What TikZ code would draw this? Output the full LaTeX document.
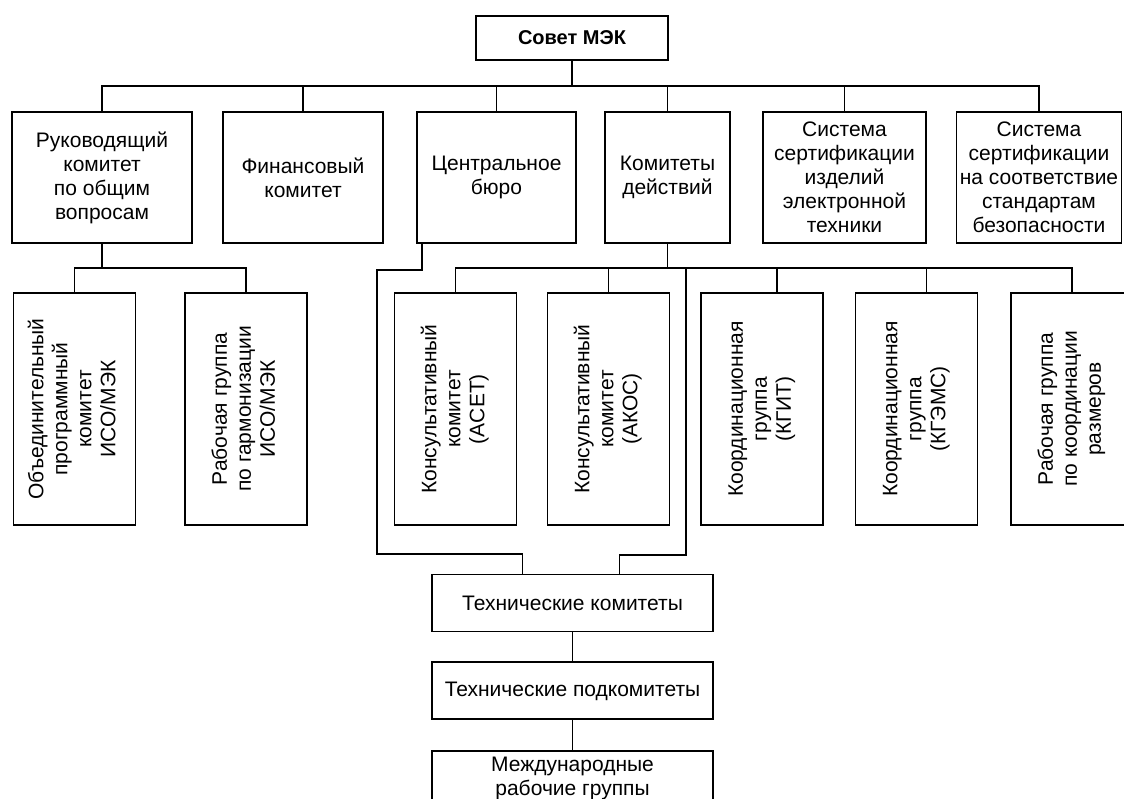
\documentclass[tikz,border=0pt]{standalone}
\usepackage{fontspec}
\setmainfont{Liberation Sans}
\usepackage{graphicx}
\usetikzlibrary{positioning}
\newcommand{\vtext}[1]{\rotatebox{90}{\begin{tabular}{@{}c@{}}#1\end{tabular}}}

\begin{document}
\begin{tikzpicture}[x=1pt,y=1pt,line width=1.9pt,
   box/.style={draw,align=center,inner sep=0pt,font=\fontsize{21}{24}\selectfont},
   upper/.style={box,minimum height=131pt},
   lower/.style={box,minimum height=232pt,minimum width=122pt},
   tech/.style={box,minimum width=281pt,minimum height=57pt}]
   \useasboundingbox (0,0) rectangle (1124,-798);
   \clip (0,0) rectangle (1124,-798);
   \node[box,minimum width=192pt,minimum height=44pt,font=\fontsize{20}{24}\selectfont\bfseries] (sovet) at (572,-38) {Совет МЭК};
   \node[upper,minimum width=180pt] (ruk) at (102,-177.5) {Руководящий\\комитет\\по общим\\вопросам};
   \node[upper,minimum width=160pt] (fin) at (303,-177.5) {Финансовый\\комитет};
   \node[upper,minimum width=159pt] (cb) at (496.5,-177.5) {Центральное\\бюро};
   \node[upper,minimum width=125pt] (kd) at (667.5,-177.5) {Комитеты\\действий};
   \node[upper,minimum width=163pt] (sys1) at (844.5,-177.5) {Система\\сертификации\\изделий\\электронной\\техники};
   \node[upper,minimum width=165pt] (sys2) at (1039,-177.5) {Система\\сертификации\\на соответствие\\стандартам\\безопасности};
   \node[lower] (obj) at (74.5,-409) {\vtext{Объединительный\\программный\\комитет\\ИСО/МЭК}};
   \node[lower] (rg) at (246,-409) {\vtext{Рабочая группа\\по гармонизации\\ИСО/МЭК}};
   \node[lower] (acet) at (455.5,-409) {\vtext{Консультативный\\комитет\\(ACET)}};
   \node[lower] (akos) at (608.5,-409) {\vtext{Консультативный\\комитет\\(АКОС)}};
   \node[lower] (kgit) at (762,-409) {\vtext{Координационная\\группа\\(КГИТ)}};
   \node[lower] (kgems) at (916.5,-409) {\vtext{Координационная\\группа\\(КГЭМС)}};
   \node[lower] (rgr) at (1072,-409) {\vtext{Рабочая группа\\по координации\\размеров}};
   \node[tech] (tk) at (572.5,-603) {Технические комитеты};
   \node[tech] (tp) [below=29pt of tk] {Технические подкомитеты};
   \node[tech,minimum height=54pt] (mrg) [below=30pt of tp] {Международные\\рабочие группы};

   \coordinate (bus1) at (0,-86);
   \coordinate (bus2) at (0,-268);
   \draw (sovet.south) -- (sovet.south |- bus1);
   \draw (ruk.north) |- (bus1 -| sys2.north) -- (sys2.north);
   \foreach \n in {fin,cb,kd,sys1}
      \draw (\n.north) -- (\n.north |- bus1);

   \draw (ruk.south) -- (ruk.south |- bus2);
   \draw (obj.north) |- (bus2 -| rg.north) -- (rg.north);
   \draw (kd.south) -- (kd.south |- bus2);
   \draw (acet.north) |- (bus2 -| rgr.north) -- (rgr.north);
   \draw (akos.north) -- (akos.north |- bus2);
   \draw ([xshift=15pt]kgit.north) -- ([xshift=15pt]kgit.north |- bus2);
   \draw ([xshift=10pt]kgems.north) -- ([xshift=10pt]kgems.north |- bus2);

   \coordinate (cbout) at ([xshift=6pt]cb.south west);
   \coordinate (left) at (377,-270);
   \coordinate (leftlow) at (377,-554);
   \coordinate (right) at (686,-268);
   \coordinate (rightlow) at (686,-555);
   \draw (cbout) |- (left) -- (leftlow) -| ([xshift=-50pt]tk.north);
   \draw (right) -- (rightlow) -| ([xshift=47pt]tk.north);
   \draw (tk) -- (tp);
   \draw (tp) -- (mrg);
\end{tikzpicture}
\end{document}
